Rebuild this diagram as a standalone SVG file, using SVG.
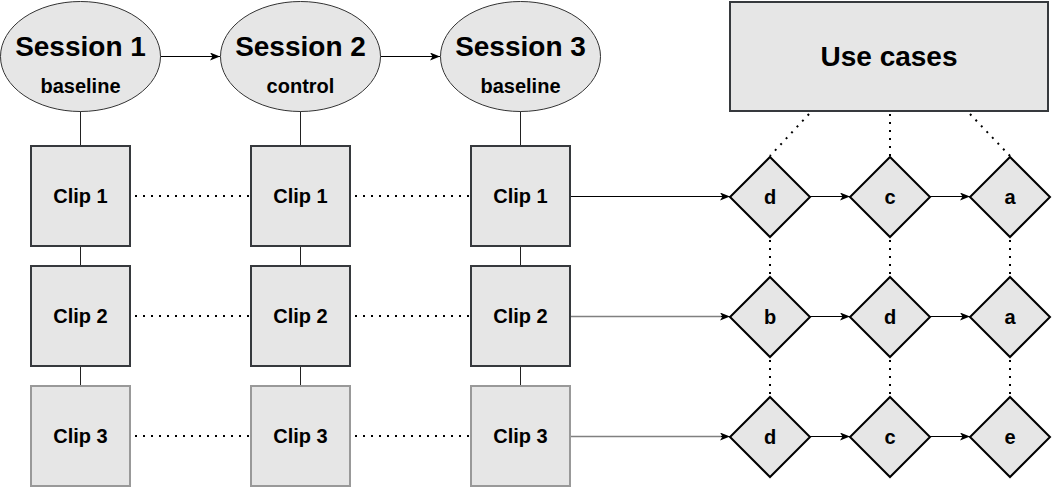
<svg xmlns="http://www.w3.org/2000/svg" width="1052" height="487" viewBox="0 0 1052 487">
  <defs>
    <style>
      .ell { fill: #e6e6e6; stroke: #333333; stroke-width: 1; }
      .box { fill: #e6e6e6; stroke: #36393d; stroke-width: 2; }
      .box3 { fill: #e6e6e6; stroke: #999999; stroke-width: 2; }
      .uc { fill: #e6e6e6; stroke: #36393d; stroke-width: 2; }
      .dia { fill: #e6e6e6; stroke: #000000; stroke-width: 2; }
      .big { font-family: "Liberation Sans", Arial, sans-serif; font-weight: bold; font-size: 28px; fill: #000; text-anchor: middle; }
      .mid { font-family: "Liberation Sans", Arial, sans-serif; font-weight: bold; font-size: 20px; fill: #000; text-anchor: middle; }
      .lbl { font-family: "Liberation Sans", Arial, sans-serif; font-weight: bold; font-size: 20px; fill: #000; text-anchor: middle; }
      .dl { font-family: "Liberation Sans", Arial, sans-serif; font-weight: bold; font-size: 20px; fill: #000; text-anchor: middle; }
      .ln { fill: none; stroke: #000; stroke-width: 1; }
      .lnd { fill: none; stroke: #222; stroke-width: 1; }
      .lng { fill: none; stroke: #808080; stroke-width: 1.5; }
      .dot { fill: none; stroke: #000; stroke-width: 2; stroke-dasharray: 2 6; }
    </style>
    <marker id="arr" viewBox="0 0 10 8" refX="10" refY="4" markerWidth="10" markerHeight="8" markerUnits="userSpaceOnUse" orient="auto">
      <path d="M0,0 L10,4 L0,8 L2.5,4 z" fill="#000"/>
    </marker>
  </defs>

  <g id="connectors">
    <line class="ln" x1="160.5" y1="56.5" x2="220" y2="56.5" marker-end="url(#arr)"/>
    <line class="ln" x1="380.5" y1="56.5" x2="440" y2="56.5" marker-end="url(#arr)"/>
    <line class="lnd" x1="80.5" y1="111" x2="80.5" y2="146"/>
    <line class="lnd" x1="300.5" y1="111" x2="300.5" y2="146"/>
    <line class="lnd" x1="520.5" y1="111" x2="520.5" y2="146"/>
    <line class="lnd" x1="80.5" y1="246" x2="80.5" y2="266"/>
    <line class="lnd" x1="300.5" y1="246" x2="300.5" y2="266"/>
    <line class="lnd" x1="520.5" y1="246" x2="520.5" y2="266"/>
    <line class="lnd" x1="80.5" y1="366" x2="80.5" y2="386"/>
    <line class="lnd" x1="300.5" y1="366" x2="300.5" y2="386"/>
    <line class="lnd" x1="520.5" y1="366" x2="520.5" y2="386"/>
    <line class="dot" x1="135" y1="196" x2="250" y2="196"/>
    <line class="dot" x1="355" y1="196" x2="470" y2="196"/>
    <line class="dot" x1="135" y1="316" x2="250" y2="316"/>
    <line class="dot" x1="355" y1="316" x2="470" y2="316"/>
    <line class="dot" x1="135" y1="436" x2="250" y2="436"/>
    <line class="dot" x1="355" y1="436" x2="470" y2="436"/>
    <line class="ln" x1="571" y1="196.5" x2="730" y2="196.5" marker-end="url(#arr)"/>
    <line class="lng" x1="571" y1="316.5" x2="722" y2="316.5"/>
    <line class="ln" x1="721" y1="316.5" x2="730" y2="316.5" marker-end="url(#arr)"/>
    <line class="lng" x1="571" y1="436.5" x2="722" y2="436.5"/>
    <line class="ln" x1="721" y1="436.5" x2="730" y2="436.5" marker-end="url(#arr)"/>
    <line class="ln" x1="810" y1="196.5" x2="850" y2="196.5" marker-end="url(#arr)"/>
    <line class="ln" x1="930" y1="196.5" x2="970" y2="196.5" marker-end="url(#arr)"/>
    <line class="ln" x1="810" y1="316.5" x2="850" y2="316.5" marker-end="url(#arr)"/>
    <line class="ln" x1="930" y1="316.5" x2="970" y2="316.5" marker-end="url(#arr)"/>
    <line class="ln" x1="810" y1="436.5" x2="850" y2="436.5" marker-end="url(#arr)"/>
    <line class="ln" x1="930" y1="436.5" x2="970" y2="436.5" marker-end="url(#arr)"/>
    <line class="dot" x1="809" y1="114" x2="770" y2="156"/>
    <line class="dot" x1="890" y1="114" x2="890" y2="156"/>
    <line class="dot" x1="970" y1="114" x2="1010" y2="156"/>
    <line class="dot" x1="770" y1="240" x2="770" y2="276"/>
    <line class="dot" x1="890" y1="240" x2="890" y2="276"/>
    <line class="dot" x1="1010" y1="240" x2="1010" y2="276"/>
    <line class="dot" x1="770" y1="360" x2="770" y2="396"/>
    <line class="dot" x1="890" y1="360" x2="890" y2="396"/>
    <line class="dot" x1="1010" y1="360" x2="1010" y2="396"/>
  </g>

  <g id="session1">
    <ellipse class="ell" cx="80.5" cy="56.5" rx="80" ry="55"/>
    <text class="big" x="80.5" y="56">Session 1</text>
    <text class="mid" x="80.5" y="93">baseline</text>
  </g>
  <g id="session2">
    <ellipse class="ell" cx="300.5" cy="56.5" rx="80" ry="55"/>
    <text class="big" x="300.5" y="56">Session 2</text>
    <text class="mid" x="300.5" y="93">control</text>
  </g>
  <g id="session3">
    <ellipse class="ell" cx="520.5" cy="56.5" rx="80" ry="55"/>
    <text class="big" x="520.5" y="56">Session 3</text>
    <text class="mid" x="520.5" y="93">baseline</text>
  </g>
  <g id="usecases">
    <rect class="uc" x="730" y="2" width="318" height="109"/>
    <text class="big" x="889" y="66">Use cases</text>
  </g>

  <g id="s1clip1"><rect class="box" x="31" y="146" width="99" height="100"/><text class="lbl" x="80.5" y="203">Clip 1</text></g>
  <g id="s1clip2"><rect class="box" x="31" y="266" width="99" height="100"/><text class="lbl" x="80.5" y="323">Clip 2</text></g>
  <g id="s1clip3"><rect class="box3" x="31" y="386" width="99" height="100"/><text class="lbl" x="80.5" y="443">Clip 3</text></g>
  <g id="s2clip1"><rect class="box" x="251" y="146" width="99" height="100"/><text class="lbl" x="300.5" y="203">Clip 1</text></g>
  <g id="s2clip2"><rect class="box" x="251" y="266" width="99" height="100"/><text class="lbl" x="300.5" y="323">Clip 2</text></g>
  <g id="s2clip3"><rect class="box3" x="251" y="386" width="99" height="100"/><text class="lbl" x="300.5" y="443">Clip 3</text></g>
  <g id="s3clip1"><rect class="box" x="471" y="146" width="99" height="100"/><text class="lbl" x="520.5" y="203">Clip 1</text></g>
  <g id="s3clip2"><rect class="box" x="471" y="266" width="99" height="100"/><text class="lbl" x="520.5" y="323">Clip 2</text></g>
  <g id="s3clip3"><rect class="box3" x="471" y="386" width="99" height="100"/><text class="lbl" x="520.5" y="443">Clip 3</text></g>

  <g id="r1d"><polygon class="dia" points="770,157 810,197 770,237 730,197"/><text class="dl" x="770" y="204">d</text></g>
  <g id="r1c"><polygon class="dia" points="890,157 930,197 890,237 850,197"/><text class="dl" x="890" y="204">c</text></g>
  <g id="r1a"><polygon class="dia" points="1010,157 1050,197 1010,237 970,197"/><text class="dl" x="1010" y="204">a</text></g>
  <g id="r2b"><polygon class="dia" points="770,277 810,317 770,357 730,317"/><text class="dl" x="770" y="324">b</text></g>
  <g id="r2d"><polygon class="dia" points="890,277 930,317 890,357 850,317"/><text class="dl" x="890" y="324">d</text></g>
  <g id="r2a"><polygon class="dia" points="1010,277 1050,317 1010,357 970,317"/><text class="dl" x="1010" y="324">a</text></g>
  <g id="r3d"><polygon class="dia" points="770,397 810,437 770,477 730,437"/><text class="dl" x="770" y="444">d</text></g>
  <g id="r3c"><polygon class="dia" points="890,397 930,437 890,477 850,437"/><text class="dl" x="890" y="444">c</text></g>
  <g id="r3e"><polygon class="dia" points="1010,397 1050,437 1010,477 970,437"/><text class="dl" x="1010" y="444">e</text></g>
</svg>
